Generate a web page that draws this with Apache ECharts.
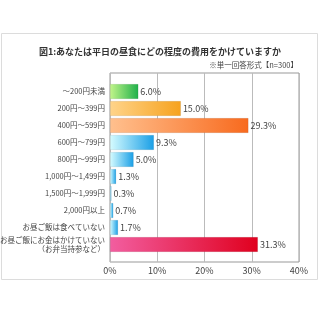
<!DOCTYPE html>
<html><head><meta charset="utf-8">
<script src="https://cdn.jsdelivr.net/npm/echarts@6/dist/echarts.min.js"></script>
<style>html,body{margin:0;padding:0;background:#fff}#c{width:320px;height:320px}</style>
</head><body><div id="c"></div>
<script>
var categories = ['～200円未満','200円～399円','400円～599円','600円～799円','800円～999円','1,000円～1,499円','1,500円～1,999円','2,000円以上','お昼ご飯は食べていない','お昼ご飯にお金はかけていない\n（お弁当持参など）'];
var values = [6.0,15.0,29.3,9.3,5.0,1.3,0.3,0.7,1.7,31.3];
var xTicks = [0,10,20,30,40];
var titleText = '図1:あなたは平日の昼食にどの程度の費用をかけていますか';
var noteText = '※単一回答形式【n=300】';

function grad(a,b){return new echarts.graphic.LinearGradient(0,0,1,0,[{offset:0,color:a},{offset:1,color:b}]);}
var colorPairs = [
  ['#c2f58a','#1fb04a'],
  ['#ffd48a','#f6a21e'],
  ['#ffc08e','#f86a1e'],
  ['#d6fcff','#1a9fe6'],
  ['#d6fcff','#1a9fe6'],
  ['#d6fcff','#1a9fe6'],
  ['#d6fcff','#1a9fe6'],
  ['#d6fcff','#1a9fe6'],
  ['#d6fcff','#1a9fe6'],
  ['#f25ea0','#e0001e']
];
var font = '"Noto Sans CJK JP", sans-serif';
var chart = echarts.init(document.getElementById('c'), null, {renderer:'canvas'});
chart.setOption({
  animation:false,
  backgroundColor:'#fff',
  graphic:[
    {type:'rect', shape:{x:1.5,y:33.5,width:316,height:246}, style:{fill:'none',stroke:'#dcdcdc',lineWidth:1}, z:0},
    {type:'text', left:'center', top:47, style:{text:titleText, font:'bold 9px '+font, fill:'#333'}},
    {type:'text', right:22, top:61, style:{text:noteText, font:'7.5px '+font, fill:'#444'}}
  ],
  grid:[
    {left:110, top:73, width:189, height:189, show:true, borderColor:'#999', borderWidth:1, backgroundColor:'#fff', outerBoundsMode:'none', containLabel:false},
    {left:110, top:83, width:189, height:170, outerBoundsMode:'none', containLabel:false}
  ],
  xAxis:[
    {gridIndex:0, type:'value', min:0, max:40, interval:10,
     axisLine:{show:false}, axisTick:{show:false},
     splitLine:{lineStyle:{color:'#bbb'}},
     axisLabel:{formatter:'{value}%', fontSize:9, color:'#444', fontFamily:font, margin:4}},
    {gridIndex:1, type:'value', min:0, max:40, show:false}
  ],
  yAxis:[
    {gridIndex:0, type:'value', min:0, max:1, show:false},
    {gridIndex:1, type:'category', data:categories, inverse:true,
     axisLine:{show:false}, axisTick:{show:false},
     axisLabel:{fontSize:7.5, color:'#444', fontFamily:font, margin:5, lineHeight:9}}
  ],
  series:[{
    type:'bar', xAxisIndex:1, yAxisIndex:1, barWidth:15,
    data: values.map(function(v,i){return {value:v, itemStyle:{color:grad(colorPairs[i][0],colorPairs[i][1]), borderColor:'rgba(0,0,0,0.15)', borderWidth:0.5}};}),
    label:{show:true, position:'right', distance:2, fontSize:9, color:'#444', fontFamily:font,
      formatter:function(p){return p.value.toFixed(1)+'%';}}
  }]
});
</script></body></html>
